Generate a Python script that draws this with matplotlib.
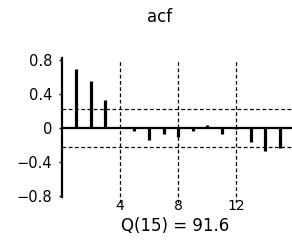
import numpy as np
import matplotlib
matplotlib.use("Agg")
import matplotlib.pyplot as plt

# autocorrelations, lags 1..15
lags = np.arange(1, 16)
acf_vals = [0.70, 0.55, 0.33, 0.01, -0.03, -0.145, -0.075, -0.10,
            -0.04, 0.03, -0.07, -0.01, -0.165, -0.27, -0.235]
conf_band = 0.22
grid_lags = [4, 8, 12]
yticks = [-0.8, -0.4, 0, 0.4, 0.8]
ytick_labels = ["\u22120.8", "\u22120.4", "0", "0.4", "0.8"]
title = "acf"
q_label = "Q(15) = 91.6"

fig = plt.figure(figsize=(2.92, 2.45), dpi=100)
ax = fig.add_axes([0.212, 0.172, 0.788, 0.59])

ax.set_xlim(0, 15.85)
ax.set_ylim(-0.88, 0.82)

# confidence band and lag grid
for c in (conf_band, -conf_band):
    ax.axhline(c, color="black", lw=0.9, ls=(0, (3, 2)))
for g in grid_lags:
    ax.axvline(g, ymin=0.0, ymax=0.99, color="black", lw=0.9, ls=(0, (3, 2)))

ax.axhline(0, color="black", lw=1.6)
ax.vlines(lags, 0, acf_vals, color="black", lw=2.3)

for s in ("top", "right", "bottom"):
    ax.spines[s].set_visible(False)
ax.spines["left"].set_linewidth(1.6)
ax.spines["left"].set_bounds(-0.81, 0.82)

ax.set_yticks(yticks)
ax.set_yticklabels(ytick_labels)
ax.set_xticks(grid_lags)
ax.tick_params(axis="y", length=2, width=1, labelsize=10.5, pad=5)
ax.tick_params(axis="x", length=0, labelsize=10, pad=-3)
ax.set_xlabel(q_label, fontsize=12, labelpad=1)
ax.xaxis.set_label_coords(0.49, -0.095, transform=ax.transAxes)
ax.xaxis.label.set_va("top")

fig.text(0.548, 0.929, title, ha="center", va="center", fontsize=12)

fig.savefig("out.png", dpi=100)
